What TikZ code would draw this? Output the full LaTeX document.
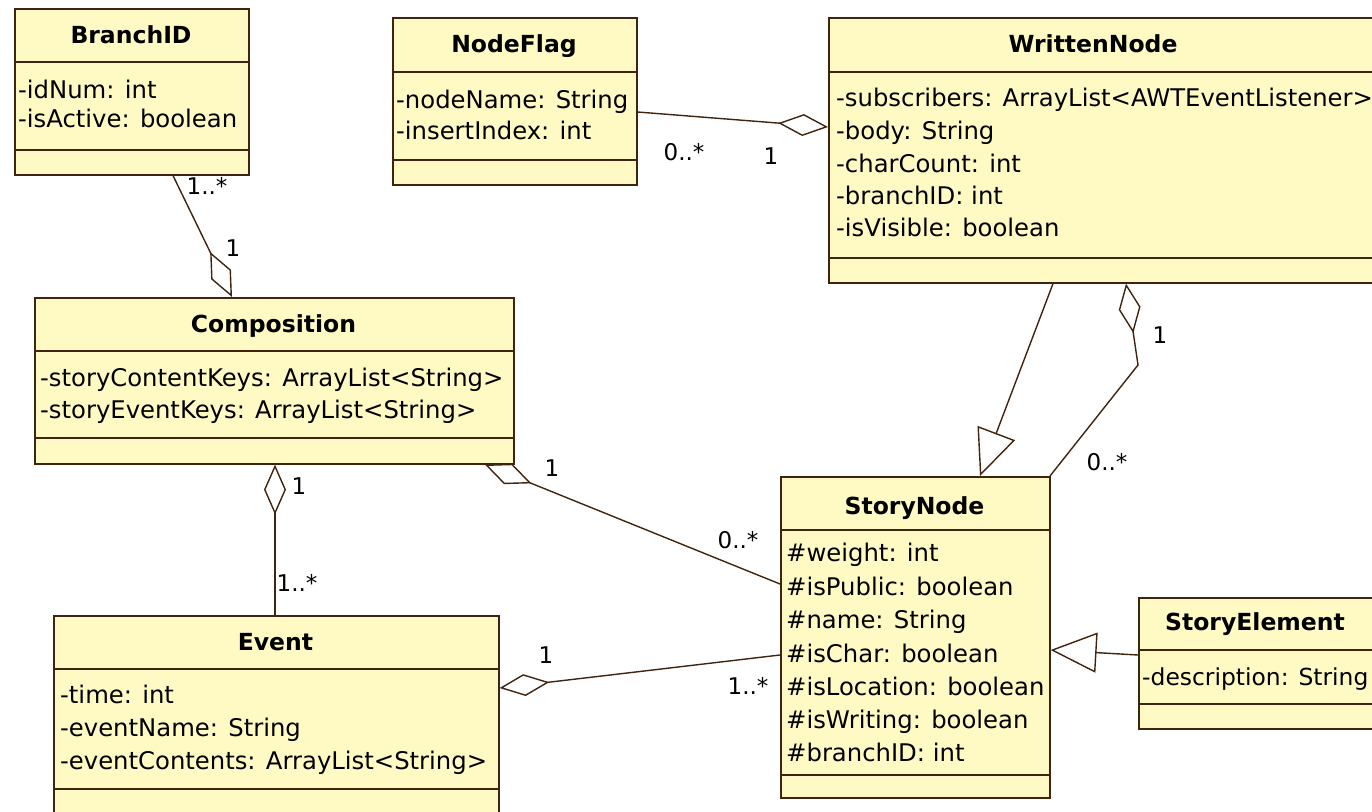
\documentclass[tikz,border=0pt]{standalone}
\usepackage{fontspec}
\setmainfont{DejaVu Sans}
\usetikzlibrary{arrows.meta,calc}
\definecolor{umlfill}{RGB}{255,250,196}
\definecolor{umlline}{RGB}{64,36,16}

\begin{document}
\begin{tikzpicture}[x=1pt,y=-1pt,
  cls/.style={draw=umlline, fill=umlfill, line width=1.6pt, rectangle, inner sep=0pt, anchor=north west},
  sep/.style={draw=umlline, line width=1.6pt},
  ttl/.style={anchor=base, inner sep=0pt, font=\fontsize{23.5}{28}\selectfont\bfseries},
  attr/.style={anchor=base west, inner sep=0pt, font=\fontsize{24.3}{29}\selectfont},
  mult/.style={anchor=base, inner sep=0pt, font=\fontsize{23}{27}\selectfont},
  link/.style={draw=umlline, line width=1.4pt},
  agg/.style={link, -{Diamond[fill=white, length=50pt, width=22pt]}},
  gen/.style={link, -{Triangle[fill=white, length=46pt, width=40pt]}},
]
\useasboundingbox (0,0) rectangle (1372,811);
\clip (0,0) rectangle (1372,811);
\fill[white] (0,0) rectangle (1372,811);

% ---------- BranchID ----------
\node[cls, minimum width=234pt, minimum height=166pt] (branch) at (14,8) {};
\draw[sep] (branch.west |- 0,62) -- (branch.east |- 0,62);
\draw[sep] (branch.west |- 0,150) -- (branch.east |- 0,150);
\node[ttl] (branch-t) at (131,43) {BranchID};
\node[attr] (branch-a1) at (18,98) {-idNum: int};
\node[attr] (branch-a2) at (18,127) {-isActive: boolean};

% ---------- NodeFlag ----------
\node[cls, minimum width=244pt, minimum height=167pt] (nflag) at (392,17) {};
\draw[sep] (nflag.west |- 0,72) -- (nflag.east |- 0,72);
\draw[sep] (nflag.west |- 0,160) -- (nflag.east |- 0,160);
\node[ttl] (nflag-t) at (514,52) {NodeFlag};
\node[attr] (nflag-a1) at (396,108) {-nodeName: String};
\node[attr] (nflag-a2) at (396,139) {-insertIndex: int};

% ---------- WrittenNode ----------
\node[cls, minimum width=570pt, minimum height=265pt] (wnode) at (828,17) {};
\draw[sep] (wnode.west |- 0,72) -- (wnode.east |- 0,72);
\draw[sep] (wnode.west |- 0,258) -- (wnode.east |- 0,258);
\node[ttl] (wnode-t) at (1093,52) {WrittenNode};
\node[attr] (wnode-a1) at (836,106) {-subscribers: ArrayList<AWTEventListener>};
\node[attr] (wnode-a2) at (836,139) {-body: String};
\node[attr] (wnode-a3) at (836,172) {-charCount: int};
\node[attr] (wnode-a4) at (836,204) {-branchID: int};
\node[attr] (wnode-a5) at (836,236) {-isVisible: boolean};

% ---------- Composition ----------
\node[cls, minimum width=479pt, minimum height=166pt] (comp) at (34,297) {};
\draw[sep] (comp.west |- 0,351) -- (comp.east |- 0,351);
\draw[sep] (comp.west |- 0,438) -- (comp.east |- 0,438);
\node[ttl] (comp-t) at (273.5,332) {Composition};
\node[attr] (comp-a1) at (40,386) {-storyContentKeys: ArrayList<String>};
\node[attr] (comp-a2) at (40,418) {-storyEventKeys: ArrayList<String>};

% ---------- Event ----------
\node[cls, minimum width=445pt, minimum height=220pt] (event) at (53,615) {};
\draw[sep] (event.west |- 0,669) -- (event.east |- 0,669);
\draw[sep] (event.west |- 0,789) -- (event.east |- 0,789);
\node[ttl] (event-t) at (275.5,650) {Event};
\node[attr] (event-a1) at (60,703) {-time: int};
\node[attr] (event-a2) at (60,736) {-eventName: String};
\node[attr] (event-a3) at (60,769) {-eventContents: ArrayList<String>};

% ---------- StoryNode ----------
\node[cls, minimum width=269pt, minimum height=321pt] (snode) at (780,476) {};
\draw[sep] (snode.west |- 0,530) -- (snode.east |- 0,530);
\draw[sep] (snode.west |- 0,775) -- (snode.east |- 0,775);
\node[ttl] (snode-t) at (914.5,514) {StoryNode};
\node[attr] (snode-a1) at (786,561) {\#weight: int};
\node[attr] (snode-a2) at (786,595) {\#isPublic: boolean};
\node[attr] (snode-a3) at (786,628) {\#name: String};
\node[attr] (snode-a4) at (786,662) {\#isChar: boolean};
\node[attr] (snode-a5) at (786,695) {\#isLocation: boolean};
\node[attr] (snode-a6) at (786,728) {\#isWriting: boolean};
\node[attr] (snode-a7) at (786,761) {\#branchID: int};

% ---------- StoryElement ----------
\node[cls, minimum width=260pt, minimum height=131pt] (selem) at (1138,597) {};
\draw[sep] (selem.west |- 0,650) -- (selem.east |- 0,650);
\draw[sep] (selem.west |- 0,704) -- (selem.east |- 0,704);
\node[ttl] (selem-t) at (1255,630) {StoryElement};
\node[attr, font=\fontsize{23.4}{28}\selectfont] (selem-a1) at (1142,685) {-description: String};

% ---------- connectors ----------
\coordinate (bend) at (1138,365);
\draw[agg] (branch.south -| 173,0) -- (comp.north -| 232,0);
\draw[agg] (nflag.east |- 0,112) -- (wnode.west |- 0,127);
\draw[gen] (wnode.south -| 1053,0) -- (snode.north -| 980,0);
\draw[agg] (snode.north -| 1050,0) -- (bend) -- (wnode.south -| 1126,0);
\draw[agg] (snode.west |- 0,584) -- (comp.south -| 485,0);
\draw[agg] (snode.west |- 0,655) -- (event.east |- 0,688);
\draw[agg] (event.north -| 275,0) -- (comp.south -| 275,0);
\draw[gen] (selem.west |- 0,655) -- (snode.east |- 0,650);

% ---------- multiplicities ----------
\node[mult] (m1) at (207,194) {1..*};
\node[mult] (m2) at (233,256) {1};
\node[mult] (m3) at (684,160) {0..*};
\node[mult] (m4) at (771,164) {1};
\node[mult] (m5) at (1160,343) {1};
\node[mult] (m6) at (1107,470) {0..*};
\node[mult] (m7) at (299,494) {1};
\node[mult] (m8) at (297,591) {1..*};
\node[mult] (m9) at (552,476) {1};
\node[mult] (m10) at (738,548) {0..*};
\node[mult] (m11) at (546,663) {1};
\node[mult] (m12) at (748,694) {1..*};
\end{tikzpicture}
\end{document}
